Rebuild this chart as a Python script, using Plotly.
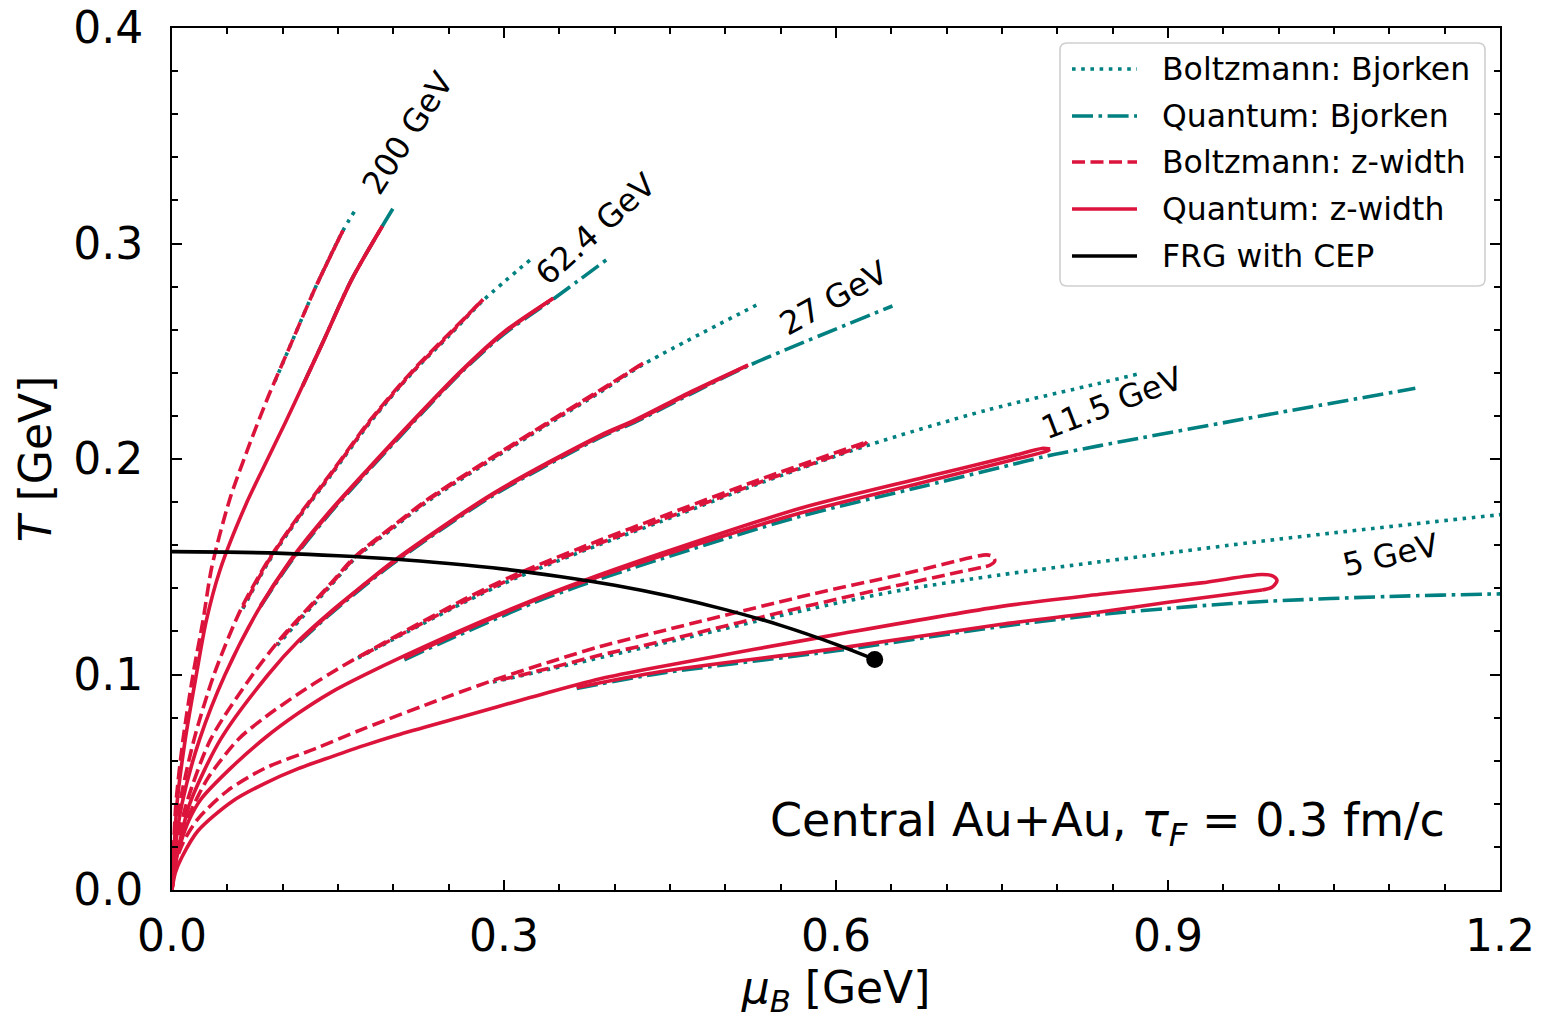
import plotly.graph_objects as go

FONT = "DejaVu Sans"
CRIMSON = "#DC143C"
TEAL = "#008080"
LW = 3.6
DASH = "13px,5.5px"
DOT = "3.6px,5.6px"
DASHDOT = "21px,5.5px,3.6px,5.5px"

# ---------------- data (mu_B [GeV], T [GeV]) ----------------
FRG_MU = [0.0, 0.05, 0.10, 0.15, 0.20, 0.25, 0.30, 0.35, 0.40, 0.45, 0.50, 0.55, 0.60, 0.635]
FRG_T = [0.1570, 0.1568, 0.1562, 0.1551, 0.1536, 0.1515, 0.1489, 0.1455, 0.1414, 0.1363, 0.1301, 0.1228, 0.1140, 0.1070]
CEP_MU = [0.635]
CEP_T = [0.107]

# 200 GeV
BJ_B_200 = [(0.093, 0.236), (0.108, 0.254), (0.130, 0.280), (0.1545, 0.306), (0.165, 0.315)]
BJ_Q_200 = [(0.118, 0.234), (0.137, 0.255), (0.162, 0.283), (0.190, 0.308), (0.200, 0.3165)]
ZH_B_200 = [(0, 0), (0.0006, 0.010), (0.0015, 0.020), (0.0035, 0.040), (0.010, 0.070), (0.019, 0.100),
            (0.028, 0.125), (0.036, 0.150), (0.052, 0.181), (0.068, 0.204), (0.087, 0.229), (0.108, 0.254),
            (0.130, 0.280), (0.1545, 0.306)]
ZC_B_200 = [(0.1545, 0.306), (0.142, 0.293), (0.131, 0.281)]
ZH_Q_200 = [(0, 0), (0.0008, 0.010), (0.002, 0.020), (0.0045, 0.040), (0.012, 0.070), (0.022, 0.100),
            (0.031, 0.125), (0.0434, 0.1485), (0.066, 0.178), (0.085, 0.1985), (0.102, 0.2165), (0.118, 0.234),
            (0.137, 0.255), (0.162, 0.283), (0.190, 0.308)]
ZC_Q_200 = [(0.190, 0.308), (0.162, 0.2828), (0.137, 0.2548), (0.118, 0.2338)]

# 62.4 GeV
BJ_B_62 = [(0.064, 0.1305), (0.087, 0.152), (0.115, 0.173), (0.143, 0.192), (0.179, 0.217), (0.218, 0.2405),
           (0.250, 0.257), (0.281, 0.2735), (0.325, 0.293)]
BJ_Q_62 = [(0.080, 0.1315), (0.107, 0.152), (0.143, 0.175), (0.180, 0.196), (0.218, 0.217), (0.262, 0.2405),
           (0.300, 0.258), (0.3445, 0.2742), (0.394, 0.293)]
ZH_B_62 = [(0, 0), (0.001, 0.010), (0.002, 0.020), (0.007, 0.040), (0.020, 0.070), (0.038, 0.100), (0.062, 0.130),
           (0.087, 0.153), (0.115, 0.174), (0.143, 0.193), (0.179, 0.218), (0.218, 0.2413), (0.250, 0.258),
           (0.281, 0.274)]
ZC_B_62 = [(0.281, 0.274), (0.250, 0.2575), (0.218, 0.2408), (0.179, 0.2175), (0.143, 0.1925), (0.115, 0.1735),
           (0.087, 0.1525), (0.064, 0.131)]
ZH_Q_62 = [(0, 0), (0.001, 0.008), (0.003, 0.020), (0.009, 0.040), (0.025, 0.070), (0.048, 0.100), (0.078, 0.130),
           (0.107, 0.153), (0.143, 0.176), (0.180, 0.197), (0.218, 0.218), (0.262, 0.2413), (0.300, 0.259),
           (0.3445, 0.2746)]
ZC_Q_62 = [(0.3445, 0.2746), (0.300, 0.2585), (0.262, 0.2408), (0.218, 0.2175), (0.180, 0.1965), (0.143, 0.1755),
           (0.107, 0.1525), (0.080, 0.132)]

# 27 GeV
BJ_B_27 = [(0.095, 0.1135), (0.143, 0.141), (0.1654, 0.1538), (0.200, 0.168), (0.233, 0.181), (0.338, 0.2155),
           (0.387, 0.231), (0.4256, 0.2438), (0.528, 0.2714)]
BJ_Q_27 = [(0.115, 0.115), (0.143, 0.128), (0.1985, 0.151), (0.290, 0.183), (0.387, 0.210), (0.418, 0.217),
           (0.470, 0.2305), (0.5205, 0.2432), (0.651, 0.271)]
ZH_B_27 = [(0, 0), (0.002, 0.012), (0.005, 0.022), (0.013, 0.040), (0.035, 0.070), (0.073, 0.100), (0.097, 0.116),
           (0.143, 0.142), (0.1654, 0.1547), (0.200, 0.169), (0.233, 0.182), (0.338, 0.2165), (0.387, 0.232),
           (0.4256, 0.2444)]
ZC_B_27 = [(0.4256, 0.2444), (0.387, 0.2315), (0.338, 0.216), (0.233, 0.1815), (0.200, 0.1685), (0.1654, 0.1542),
           (0.143, 0.1415), (0.097, 0.1155), (0.095, 0.114)]
ZH_Q_27 = [(0, 0), (0.002, 0.010), (0.006, 0.020), (0.016, 0.040), (0.044, 0.070), (0.087, 0.100), (0.115, 0.116),
           (0.143, 0.129), (0.174, 0.142), (0.1985, 0.152), (0.290, 0.184), (0.387, 0.211), (0.418, 0.218),
           (0.470, 0.2315), (0.5205, 0.2436)]
ZC_Q_27 = [(0.5205, 0.2436), (0.470, 0.231), (0.418, 0.2175), (0.387, 0.2105), (0.290, 0.1835), (0.1985, 0.1515),
           (0.143, 0.1285), (0.115, 0.1155)]

# 11.5 GeV
BJ_B_11 = [(0.168, 0.1076), (0.263, 0.1332), (0.3115, 0.1449), (0.387, 0.1604), (0.441, 0.1708), (0.530, 0.1885),
           (0.628, 0.2062), (0.7365, 0.2227), (0.8385, 0.2352), (0.8726, 0.2394)]
BJ_Q_11 = [(0.210, 0.1068), (0.250, 0.1162), (0.3265, 0.1332), (0.367, 0.1409), (0.441, 0.1535), (0.567, 0.1733),
           (0.680, 0.1875), (0.760, 0.1975), (0.789, 0.2012), (0.8385, 0.2062), (1.000, 0.2215), (1.1235, 0.2328)]
ZH_B_11 = [(0, 0), (0.002, 0.012), (0.006, 0.022), (0.014, 0.033), (0.022, 0.042), (0.0325, 0.052), (0.060, 0.070),
           (0.085, 0.0805), (0.114, 0.091), (0.143, 0.1005), (0.168, 0.108), (0.263, 0.1346), (0.3115, 0.1466),
           (0.387, 0.1624), (0.441, 0.173), (0.530, 0.1903), (0.628, 0.208)]
ZC_B_11 = [(0.628, 0.208), (0.6255, 0.2068), (0.530, 0.189), (0.441, 0.1715), (0.387, 0.161), (0.3115, 0.1455),
           (0.263, 0.1337), (0.168, 0.1078)]
ZH_Q_11 = [(0, 0), (0.003, 0.012), (0.008, 0.022), (0.015, 0.032), (0.026, 0.042), (0.054, 0.057), (0.085, 0.071),
           (0.114, 0.082), (0.143, 0.0915), (0.174, 0.0998), (0.250, 0.118), (0.3265, 0.1346), (0.367, 0.1426),
           (0.441, 0.156), (0.567, 0.177), (0.680, 0.1915), (0.760, 0.2015), (0.786, 0.2049), (0.7935, 0.2046)]
ZC_Q_11 = [(0.7935, 0.2046), (0.789, 0.2034), (0.760, 0.1997), (0.680, 0.1893), (0.567, 0.1748), (0.441, 0.1549),
           (0.367, 0.1421), (0.3265, 0.1342), (0.250, 0.1172), (0.210, 0.1075)]

# 5 GeV
BJ_B_5 = [(0.290, 0.0965), (0.340, 0.1023), (0.441, 0.1142), (0.580, 0.1308), (0.660, 0.1392), (0.748, 0.1462),
          (0.8385, 0.1523), (1.000, 0.1628), (1.197, 0.1740), (1.260, 0.1772)]
BJ_Q_5 = [(0.3657, 0.0935), (0.441, 0.1005), (0.600, 0.1110), (0.748, 0.1222), (0.8385, 0.1278), (0.920, 0.1315),
          (0.990, 0.1340), (1.100, 0.1362), (1.200, 0.1374), (1.260, 0.1378)]
ZH_B_5 = [(0, 0), (0.003, 0.012), (0.010, 0.022), (0.0235, 0.033), (0.050, 0.046), (0.084, 0.0565), (0.129, 0.0655),
          (0.174, 0.075), (0.248, 0.0895), (0.300, 0.099), (0.387, 0.113), (0.441, 0.120), (0.580, 0.1375),
          (0.660, 0.1465), (0.736, 0.1555), (0.7415, 0.1548), (0.7435, 0.1528), (0.739, 0.1507), (0.731, 0.1497)]
ZC_B_5 = [(0.731, 0.1497), (0.660, 0.1418), (0.580, 0.1325), (0.441, 0.1152), (0.387, 0.109), (0.340, 0.1028),
          (0.290, 0.0967)]
ZH_Q_5 = [(0, 0), (0.003, 0.008), (0.009, 0.0153), (0.0235, 0.0275), (0.054, 0.041), (0.084, 0.0495),
          (0.114, 0.0563), (0.1446, 0.0619), (0.174, 0.0671), (0.203, 0.0718), (0.263, 0.0805), (0.3235, 0.0893),
          (0.387, 0.098), (0.441, 0.1036), (0.600, 0.1185), (0.748, 0.1315), (0.8385, 0.1372), (0.930, 0.1425),
          (0.985, 0.1464), (0.9955, 0.1455), (0.9985, 0.1435), (0.994, 0.1405), (0.985, 0.1392)]
ZC_Q_5 = [(0.985, 0.1392), (0.900, 0.1335), (0.8385, 0.1290), (0.748, 0.1232), (0.600, 0.1120), (0.441, 0.1013),
          (0.3657, 0.0940)]

ENERGY_LABELS = ["200 GeV", "62.4 GeV", "27 GeV", "11.5 GeV", "5 GeV"]
LABEL_MU = [0.2130, 0.3830, 0.598, 0.8494, 1.1006]
LABEL_T = [0.3512, 0.3065, 0.2747, 0.2260, 0.1555]
LABEL_ANGLE = [-57, -42, -29, -21, -13]

X_TICKS = [0.0, 0.3, 0.6, 0.9, 1.2]
Y_TICKS = [0.0, 0.1, 0.2, 0.3, 0.4]

LEGEND_NAMES = ["Boltzmann: Bjorken", "Quantum: Bjorken", "Boltzmann: z-width", "Quantum: z-width", "FRG with CEP"]

# ---------------- figure ----------------
fig = go.Figure()


def add_curve(pts, color, dash, name):
    fig.add_trace(go.Scatter(
        x=[p[0] for p in pts], y=[p[1] for p in pts], mode="lines", name=name,
        line=dict(color=color, width=LW, dash=dash, shape="spline", smoothing=0.8),
        showlegend=False, hoverinfo="skip"))


bj_sets = [(BJ_B_200, BJ_Q_200), (BJ_B_62, BJ_Q_62), (BJ_B_27, BJ_Q_27), (BJ_B_11, BJ_Q_11), (BJ_B_5, BJ_Q_5)]
zw_sets = [(ZH_B_200, ZC_B_200, ZH_Q_200, ZC_Q_200), (ZH_B_62, ZC_B_62, ZH_Q_62, ZC_Q_62),
           (ZH_B_27, ZC_B_27, ZH_Q_27, ZC_Q_27), (ZH_B_11, ZC_B_11, ZH_Q_11, ZC_Q_11),
           (ZH_B_5, ZC_B_5, ZH_Q_5, ZC_Q_5)]

for b, q in bj_sets:
    add_curve(b, TEAL, DOT, LEGEND_NAMES[0])
    add_curve(q, TEAL, DASHDOT, LEGEND_NAMES[1])
for hb, cb, hq, cq in zw_sets:
    add_curve(hb, CRIMSON, DASH, LEGEND_NAMES[2])
    add_curve(cb, CRIMSON, DASH, LEGEND_NAMES[2])
    add_curve(hq, CRIMSON, "solid", LEGEND_NAMES[3])
    add_curve(cq, CRIMSON, "solid", LEGEND_NAMES[3])

fig.add_trace(go.Scatter(x=FRG_MU, y=FRG_T, mode="lines", name=LEGEND_NAMES[4],
                         line=dict(color="black", width=LW, shape="spline"), showlegend=False))
fig.add_trace(go.Scatter(x=CEP_MU, y=CEP_T, mode="markers", name="CEP",
                         marker=dict(color="black", size=17), showlegend=False))

annotations = []
for txt, mx, ty, ang in zip(ENERGY_LABELS, LABEL_MU, LABEL_T, LABEL_ANGLE):
    annotations.append(dict(x=mx, y=ty, xref="x", yref="y", text=txt, showarrow=False, textangle=ang,
                            xanchor="center", yanchor="middle", font=dict(family=FONT, size=32, color="black")))

annotations.append(dict(x=0.9601, y=0.0777, xref="paper", yref="paper",
                        text="Central Au+Au, <i>τ</i><sub><i>F</i></sub> = 0.3 fm/c", showarrow=False,
                        xanchor="right", yanchor="middle", font=dict(family=FONT, size=46, color="black")))

# manual legend (paper coordinates of the plot area)
PX0, PX1, PY0, PY1 = 172, 1500, 28, 890


def px(x):
    return (x - PX0) / (PX1 - PX0)


def py(y):
    return (PY1 - y) / (PY1 - PY0)


shapes = []
bx0, bx1, by0, by1 = px(1060), px(1485), py(286), py(43)
rx, ry = 7 / (PX1 - PX0), 7 / (PY1 - PY0)
path = (f"M {bx0 + rx},{by0} L {bx1 - rx},{by0} Q {bx1},{by0} {bx1},{by0 + ry} "
        f"L {bx1},{by1 - ry} Q {bx1},{by1} {bx1 - rx},{by1} L {bx0 + rx},{by1} Q {bx0},{by1} {bx0},{by1 - ry} "
        f"L {bx0},{by0 + ry} Q {bx0},{by0} {bx0 + rx},{by0} Z")
shapes.append(dict(type="path", xref="paper", yref="paper", path=path, fillcolor="white",
                   line=dict(color="#cfcfcf", width=1.6), layer="above"))
leg_styles = [(TEAL, DOT), (TEAL, DASHDOT), (CRIMSON, DASH), (CRIMSON, "solid"), ("black", "solid")]
rows = [69, 116, 162, 209, 256]
for (col, dsh), r, name in zip(leg_styles, rows, LEGEND_NAMES):
    shapes.append(dict(type="line", xref="paper", yref="paper", x0=px(1072), x1=px(1137), y0=py(r), y1=py(r),
                       line=dict(color=col, width=LW, dash=dsh), layer="above"))
    annotations.append(dict(x=px(1160), y=py(r), xref="paper", yref="paper", text=name, showarrow=False,
                            xanchor="left", yanchor="middle", font=dict(family=FONT, size=31.5, color="black")))

axis_common = dict(showline=True, linewidth=2, linecolor="black", mirror="ticks", ticks="inside",
                   ticklen=10, tickwidth=2, tickcolor="black", showgrid=False, zeroline=False,
                   tickfont=dict(family=FONT, size=44, color="black"))

fig.update_layout(
    width=1541, height=1021,
    margin=dict(l=PX0, r=1541 - PX1, t=PY0, b=1021 - PY1, autoexpand=False),
    paper_bgcolor="white", plot_bgcolor="white",
    shapes=shapes, annotations=annotations,
    xaxis=dict(range=[0, 1.2], tickvals=X_TICKS, ticktext=[f"{v:.1f}" for v in X_TICKS],
               minor=dict(ticks="inside", ticklen=6, tickwidth=1.5, tickcolor="black", tick0=0, dtick=0.05),
               ticklabelstandoff=6,
               title=dict(text="<i>μ</i><sub><i>B</i></sub> [GeV]", font=dict(family=FONT, size=44, color="black"),
                          standoff=12),
               **axis_common),
    yaxis=dict(range=[0, 0.4], tickvals=Y_TICKS, ticktext=[f"{v:.1f}" for v in Y_TICKS],
               minor=dict(ticks="inside", ticklen=6, tickwidth=1.5, tickcolor="black", tick0=0, dtick=0.02),
               ticklabelstandoff=18,
               title=dict(text="<i>T</i> [GeV]", font=dict(family=FONT, size=44, color="black"), standoff=8),
               **axis_common),
)

fig.write_html("out.html")
